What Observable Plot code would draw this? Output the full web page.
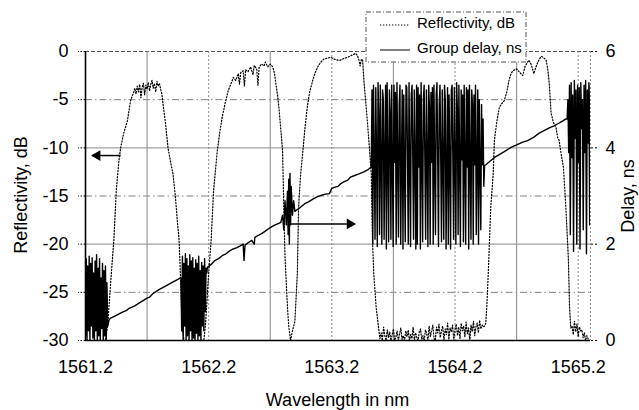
<!DOCTYPE html>
<html><head><meta charset="utf-8">
<script src="https://cdn.jsdelivr.net/npm/d3@7"></script>
<script src="https://cdn.jsdelivr.net/npm/@observablehq/plot@0.6"></script>
<style>body{margin:0;background:#fff;} #chart{position:relative;width:639px;height:410px;overflow:hidden;}</style>
</head><body><div id="chart"></div>
<script>
// ---- tick labels / grid ----
const xTicks = [1561.2, 1562.2, 1563.2, 1564.2, 1565.2];
const xHalfGrid = [1561.7, 1562.7, 1563.7, 1564.7];
const xDottedGrid = [1562.2, 1563.2, 1564.2, 1565.2, 1565.3];
const dbTicks = [-30, -25, -20, -15, -10, -5, 0];
const dbDashGrid = [-25, -15, -5];
const dbSolidGrid = [-20, -10];
const delayTicks = [0, 2, 4, 6];

// ---- Reflectivity, dB (wavelength nm, dB) ----
const reflPeaks = [
[1561.2,-30],[1561.36,-30],[1561.38,-28.5],[1561.39,-26.6],[1561.41,-23],[1561.43,-19.6],[1561.45,-14.4],[1561.47,-11.5],[1561.485,-10],[1561.51,-8.5],[1561.54,-7.2],[1561.555,-6],[1561.566,-5.1],[1561.58,-4.6],[1561.59,-4.3],[1561.6,-3.8],[1561.61,-4.4],[1561.62,-3.6],[1561.63,-4.2],[1561.64,-3.4],[1561.65,-4.8],[1561.66,-3.7],[1561.67,-3.3],[1561.68,-4.5],[1561.69,-3.5],[1561.70,-3.9],[1561.71,-3.2],[1561.72,-4.1],[1561.73,-3.4],[1561.74,-3.0],[1561.75,-3.8],[1561.76,-3.3],[1561.77,-4.2],[1561.78,-3.1],[1561.79,-3.6],[1561.80,-3.3],[1561.81,-3.9],[1561.82,-4.4],[1561.826,-5.1],[1561.84,-6.5],[1561.85,-7.5],[1561.86,-8.8],[1561.87,-10],[1561.89,-11.4],[1561.91,-12.7],[1561.93,-15.1],[1561.945,-17.5],[1561.96,-19.6],[1561.97,-23],[1561.98,-26.6],[1561.99,-29],[1562.0,-30],[1562.16,-30],
[1562.165,-29.5],[1562.175,-28.2],[1562.2,-23],[1562.22,-19.6],[1562.24,-14.4],[1562.27,-10.3],[1562.29,-8.4],[1562.31,-6.8],[1562.335,-5.3],[1562.36,-4.0],[1562.38,-3.4],[1562.40,-2.7],[1562.42,-3.0],[1562.44,-2.3],[1562.45,-3.4],[1562.46,-2.2],[1562.48,-2.0],[1562.49,-3.6],[1562.50,-1.9],[1562.52,-2.1],[1562.54,-1.6],[1562.56,-2.4],[1562.57,-1.45],[1562.59,-1.8],[1562.60,-3.5],[1562.61,-1.6],[1562.63,-1.3],[1562.65,-1.5],[1562.66,-1.1],[1562.68,-1.6],[1562.70,-1.3],[1562.72,-1.6],[1562.735,-2.3],[1562.745,-3.3],[1562.76,-4.6],[1562.77,-5.8],[1562.785,-8],[1562.80,-10.3],[1562.81,-16.2],[1562.82,-21.4],[1562.84,-26.6],[1562.85,-28.5],[1562.865,-30],[1562.88,-29],[1562.9,-28],[1562.91,-25.5],[1562.92,-23],[1562.93,-16.2],[1562.945,-13],[1562.96,-11],[1562.98,-8.2],[1563.0,-5.8],[1563.02,-4.2],[1563.045,-3.0],[1563.065,-2.2],[1563.085,-1.6],[1563.11,-1.1],[1563.135,-0.8],[1563.16,-0.7],[1563.19,-0.6],[1563.22,-0.8],[1563.25,-0.9],[1563.27,-0.9],[1563.30,-0.7],[1563.33,-0.6],[1563.36,-0.4],[1563.395,-0.2],[1563.41,-0.5],[1563.42,-0.9],[1563.43,-1.5],[1563.44,-0.8],[1563.45,-0.9],[1563.46,-3],[1563.475,-5.2],[1563.49,-7.5],[1563.505,-10],[1563.52,-12.7],[1563.53,-19.6],[1563.54,-23],[1563.56,-26.6],[1563.58,-28.7]
];
const reflFloorA = [-29.8,-29.2,-30,-28.6,-29.5,-30,-28.9,-29.7,-29.1,-30,-29.4,-28.8,-30,-29.6,-29.0,-30,-29.3,-28.7,-29.9,-29.5,-30,-29.0,-29.6,-28.9,-30,-29.4,-29.8,-28.6,-30,-29.2,-29.7,-30,-29.1,-28.8,-29.9,-29.5,-30,-28.9,-29.3,-30,-28.5,-29.6,-29.0,-28.4,-29.8,-30,-28.6,-29.2,-28.3,-29.7,-29.0,-28.5,-30,-28.8,-29.4,-28.2,-29.9,-28.7,-29.1,-28.4,-30,-28.9,-28.3,-29.5,-28.6,-29.8,-28.2,-29.0,-28.5,-29.6,-28.1,-29.3,-28.7,-30,-28.4,-29.1,-28.0,-29.5,-28.6,-28.2,-29.2,-27.9,-28.8,-28.4,-28.6];
const reflFloorARange = [1563.59, 1564.43];
const reflPeak4 = [
[1564.44,-28.5],[1564.45,-28.2],[1564.46,-26],[1564.47,-23],[1564.49,-16.2],[1564.51,-12.7],[1564.52,-9.2],[1564.54,-7.2],[1564.56,-5.8],[1564.58,-5.4],[1564.60,-5.1],[1564.62,-4.2],[1564.64,-2.9],[1564.655,-2.3],[1564.67,-2.0],[1564.70,-1.8],[1564.72,-2.1],[1564.75,-2.5],[1564.77,-1.5],[1564.80,-0.9],[1564.82,-1.4],[1564.84,-2.3],[1564.86,-1.5],[1564.88,-0.9],[1564.90,-0.5],[1564.915,-0.6],[1564.94,-0.9],[1564.955,-2],[1564.965,-3.3],[1564.98,-6.4],[1565.0,-7.4],[1565.02,-7.9],[1565.035,-9],[1565.045,-9.2],[1565.06,-10.5],[1565.08,-12],[1565.10,-16.2],[1565.12,-21.4],[1565.13,-26.6],[1565.14,-28.7]
];
const reflFloorB = [-28.5,-29.4,-28.0,-29.1,-28.3,-29.6,-28.6,-29.0,-28.9,-29.7,-29.2,-30,-29.5,-29.8,-30,-30];
const reflFloorBRange = [1565.15, 1565.30];

// ---- Group delay, ns ----
const delayNoiseA = [0.1,1.7,0.0,1.55,0.2,1.75,0.0,1.6,0.3,1.72,0.05,1.4,0.0,1.65,0.2,1.78,0.0,1.5,0.1,1.7,0.0,1.3,0.25,1.6,0.0,1.45,0.1,1.55,0.0,1.2,0.3];
const delayNoiseARange = [1561.2, 1561.38];
const delayRamp1 = [[1561.39,0.42],[1561.40,0.46],[1561.45,0.52],[1561.5,0.59],[1561.53,0.62],[1561.55,0.66],[1561.6,0.72],[1561.65,0.8],[1561.7,0.88],[1561.72,0.9],[1561.75,0.98],[1561.8,1.06],[1561.85,1.13],[1561.9,1.2],[1561.95,1.27],[1561.97,1.3]];
const delayNoiseB = [1.3,0.2,1.75,0.0,1.6,0.3,1.8,0.0,1.7,0.1,1.55,0.0,1.78,0.2,1.65,0.0,1.72,0.05,1.5,0.0,1.68,0.15,1.6,0.0,1.75,0.1,1.45,0.0,1.62,0.3,1.55,0.2,1.7,0.6,1.5,1.4];
const delayNoiseBRange = [1561.975, 1562.185];
const delayRamp2 = [[1562.19,1.52],[1562.22,1.58],[1562.25,1.66],[1562.28,1.7],[1562.31,1.76],[1562.34,1.8],[1562.37,1.86],[1562.40,1.9],[1562.43,1.93],[1562.46,1.97],[1562.48,2.0],[1562.487,1.66],[1562.495,1.98],[1562.52,2.03],[1562.55,2.08],[1562.57,2.0],[1562.575,2.14],[1562.60,2.18],[1562.63,2.22],[1562.66,2.27],[1562.68,2.31],[1562.71,2.36],[1562.74,2.4],[1562.77,2.43],[1562.785,2.45],
[1562.80,2.6],[1562.81,2.3],[1562.82,2.9],[1562.83,2.4],[1562.84,3.1],[1562.845,2.2],[1562.85,3.35],[1562.855,2.0],[1562.86,3.47],[1562.865,2.4],[1562.87,3.2],[1562.88,2.6],[1562.89,2.9],[1562.90,2.68],[1562.92,2.72],[1562.948,2.77],[1562.98,2.84],[1563.01,2.88],[1563.05,2.94],[1563.08,2.98],[1563.12,3.02],[1563.15,3.04],[1563.18,3.05],[1563.20,3.16],[1563.22,3.18],[1563.25,3.2],[1563.27,3.25],[1563.30,3.3],[1563.33,3.33],[1563.35,3.39],[1563.38,3.42],[1563.41,3.45],[1563.44,3.48],[1563.46,3.5],[1563.49,3.54],[1563.51,3.58]];
const delayNoiseC = [
3.6,5.2,2.0,5.3,3.7,2.1,5.25,3.8,1.95,5.35,4.6,2.2,5.3,3.7,2.0,5.2,5.0,2.1,3.8,5.3,
1.9,5.35,3.7,2.05,5.2,4.7,2.1,5.3,3.65,1.95,5.3,3.7,5.15,2.0,5.35,3.8,2.15,4.9,5.3,2.0,
3.7,5.2,1.9,5.1,3.6,2.05,5.3,5.25,3.75,2.0,5.35,3.7,1.95,5.1,5.3,3.8,2.1,5.2,3.7,1.9,
5.3,2.0,5.25,3.6,5.1,1.9,5.35,3.75,2.05,5.0,5.3,3.7,2.1,5.2,3.8,1.95,5.3,4.85,2.0,5.15,
3.7,5.25,2.0,5.3,3.65,2.2,5.1,5.35,3.7,1.95,4.9,5.3,3.75,2.05,5.2,3.7,2.1,5.3,5.0,1.9,
3.6,5.25,2.0,5.1,3.7,1.9,5.2,5.3,3.8,2.1,5.25,3.7,2.0,5.35,4.8,2.2,5.3,3.7,1.95,5.2,
3.75,5.1,2.05,5.3,3.7,2.0,5.25,3.6,5.2,1.9,5.3,3.7,2.1,5.2,4.9,2.0,5.1,3.65,5.3,2.2,
3.7,5.2,2.0,5.0,3.6,2.3,4.9,3.65,4.6,3.2,3.63];
const delayNoiseCRange = [1563.52, 1564.44];
const delayRamp3 = [[1564.45,3.65],[1564.52,3.8],[1564.56,3.86],[1564.6,3.92],[1564.655,4.01],[1564.7,4.06],[1564.75,4.12],[1564.79,4.15],[1564.84,4.22],[1564.88,4.3],[1564.926,4.36],[1564.97,4.42],[1565.0,4.45],[1565.035,4.5],[1565.07,4.55],[1565.10,4.6]];
const delayNoiseD = [4.6,5.0,3.9,5.3,2.2,5.35,3.8,5.1,1.85,5.4,4.2,5.2,2.0,5.3,3.7,5.25,1.9,5.35,4.4,5.0,2.3,5.3,3.9,5.4,1.8,5.2,4.1,5.35,2.4,5.3];
const delayNoiseDRange = [1565.11, 1565.30];

// annotation arrows (wavelength nm, dB)
const arrowLeft = [{x1:1561.485, x2:1561.255, y:-10.8}];
const arrowRight = [{x1:1562.842, x2:1563.387, y:-17.9}];

// ---- assemble (sampled on an even wavelength grid) ----
const onGrid = (values, [a, b]) => values.map((v, i) => [a + i * (b - a) / (values.length - 1), v]);
const reflAll = [...reflPeaks, ...onGrid(reflFloorA, reflFloorARange), ...reflPeak4, ...onGrid(reflFloorB, reflFloorBRange)];
const delayAll = [...onGrid(delayNoiseA, delayNoiseARange), ...delayRamp1, ...onGrid(delayNoiseB, delayNoiseBRange), ...delayRamp2,
  ...onGrid(delayNoiseC, delayNoiseCRange), ...delayRamp3, ...onGrid(delayNoiseD, delayNoiseDRange)];
const toDb = v => v * 5 - 30; // right axis 0..6 ns mapped onto -30..0 dB

const font = "'Liberation Sans', Arial, sans-serif";
const plot = Plot.plot({
  width: 639, height: 410,
  marginLeft: 85, marginRight: 49, marginTop: 51, marginBottom: 70,
  style: {fontFamily: font, fontSize: "18px", color: "#000", background: "#fff", overflow: "visible"},
  x: {domain: [1561.2, 1565.3]},
  y: {domain: [-30, 0]},
  marks: [
    Plot.ruleY(dbDashGrid, {stroke: "#808080", strokeDasharray: "7,3,1.5,3"}),
    Plot.ruleY(dbSolidGrid, {stroke: "#a0a0a0", strokeWidth: 1.3}),
    Plot.ruleY([0], {stroke: "#555", strokeDasharray: "4,2"}),
    Plot.ruleX(xHalfGrid, {stroke: "#9a9a9a", strokeWidth: 1.2}),
    Plot.ruleX(xDottedGrid, {stroke: "#888", strokeDasharray: "2,2"}),
    Plot.line(reflAll, {x: d => d[0], y: d => d[1], stroke: "#000", strokeWidth: 1.2, strokeDasharray: "1.2,1.8", clip: true}),
    Plot.line(delayAll, {x: d => d[0], y: d => toDb(d[1]), stroke: "#000", strokeWidth: 1.4, clip: true}),
    Plot.ruleX([1561.2], {stroke: "#000", strokeWidth: 1.6}),
    Plot.ruleY([-30], {stroke: "#000", strokeWidth: 1.6}),
    Plot.axisY(dbTicks, {anchor: "left", tickSize: 7, tickPadding: 10, tickFormat: d => String(d), strokeDasharray: "1.5,1.5", label: null}),
    Plot.axisY(delayTicks.map(toDb), {anchor: "right", tickSize: 7, tickPadding: 8, tickFormat: d => String((d + 30) / 5), strokeDasharray: "2,2", label: null}),
    Plot.axisX(xTicks, {anchor: "bottom", tickSize: 0, tickPadding: 20, tickFormat: d3.format(".1f"), label: null}),
    Plot.link(arrowLeft, {x1: "x1", x2: "x2", y1: "y", y2: "y", stroke: "#000", strokeWidth: 1.5}),
    Plot.link(arrowRight, {x1: "x1", x2: "x2", y1: "y", y2: "y", stroke: "#000", strokeWidth: 1.5}),
    Plot.dot(arrowLeft, {x: "x2", y: "y", symbol: "triangle", r: 4, fill: "#000", stroke: null, rotate: -90, dx: 5}),
    Plot.dot(arrowRight, {x: "x2", y: "y", symbol: "triangle", r: 4, fill: "#000", stroke: null, rotate: 90, dx: -5})
  ]
});

const svg = d3.select(plot);
svg.append("text").attr("x", 337.5).attr("y", 406).attr("text-anchor", "middle")
  .attr("font-family", font).attr("font-size", 18).text("Wavelength in nm");
svg.append("text").attr("transform", "translate(27,195) rotate(-90)").attr("text-anchor", "middle")
  .attr("font-family", font).attr("font-size", 18).text("Reflectivity, dB");
svg.append("text").attr("transform", "translate(634,196) rotate(-90)").attr("text-anchor", "middle")
  .attr("font-family", font).attr("font-size", 18).text("Delay, ns");

// legend
const lg = svg.append("g");
lg.append("rect").attr("x", 366).attr("y", 12).attr("width", 160).attr("height", 50)
  .attr("fill", "#fff").attr("stroke", "#555").attr("stroke-dasharray", "5,2,1,2");
lg.append("line").attr("x1", 380).attr("x2", 410).attr("y1", 25).attr("y2", 25)
  .attr("stroke", "#000").attr("stroke-width", 1).attr("stroke-dasharray", "1.3,1.7");
lg.append("text").attr("x", 417).attr("y", 28).attr("text-anchor", "start")
  .attr("font-family", font).attr("font-size", 15).text("Reflectivity, dB");
lg.append("line").attr("x1", 380).attr("x2", 410).attr("y1", 50).attr("y2", 50)
  .attr("stroke", "#000").attr("stroke-width", 1);
lg.append("text").attr("x", 417).attr("y", 53).attr("text-anchor", "start")
  .attr("font-family", font).attr("font-size", 15).text("Group delay, ns");

document.getElementById("chart").appendChild(plot);
</script>
</body></html>
